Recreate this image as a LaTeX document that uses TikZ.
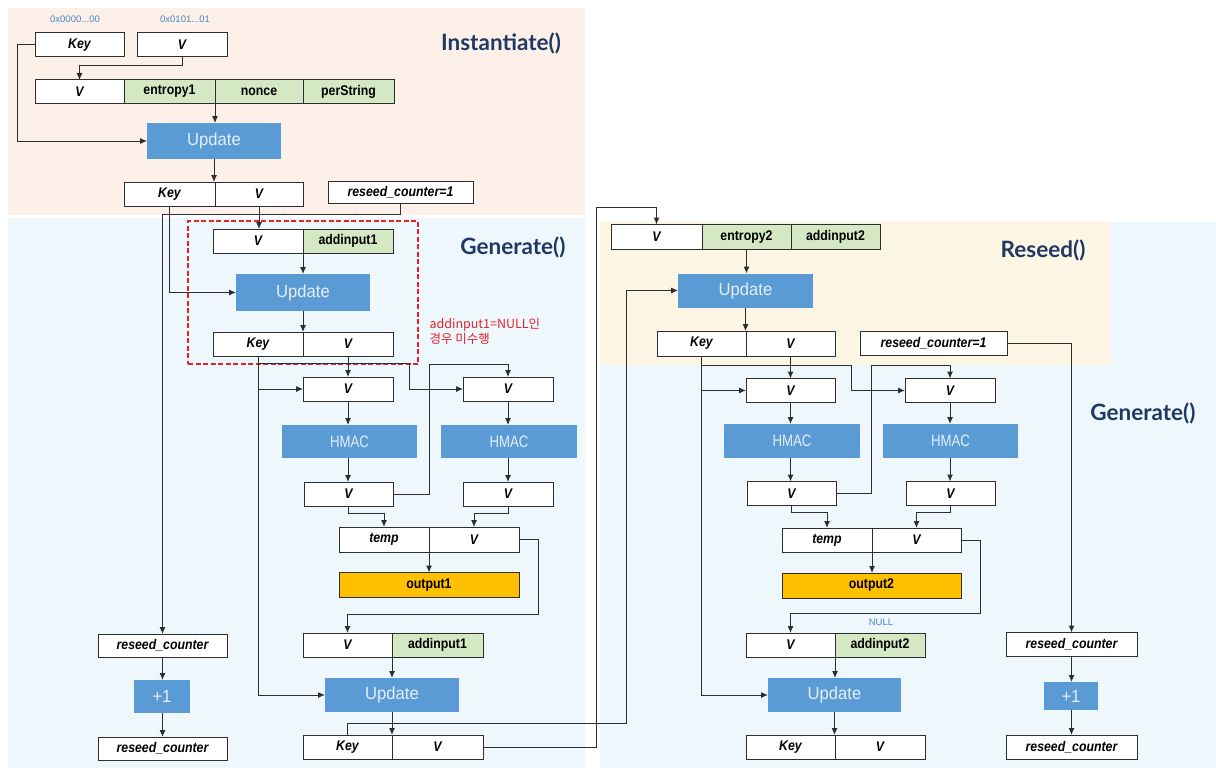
\documentclass[tikz,border=0pt]{standalone}
\usepackage{fontspec}
\setmainfont{Liberation Sans}
\newfontfamily\boxfont{Liberation Sans}[FakeStretch=0.88]
\newfontfamily\procfont{Liberation Sans}[FakeStretch=0.95]
\newfontfamily\hmacfont{Liberation Sans}[FakeStretch=0.8]
\newfontfamily\phasefont{Lato}
\newfontfamily\krfont{Noto Sans CJK KR}
\usetikzlibrary{positioning, fit, arrows.meta}

\definecolor{peachBg}{HTML}{FCF0E9}
\definecolor{blueBg}{HTML}{EEF7FC}
\definecolor{yellowBg}{HTML}{FEF6E4}
\definecolor{procBlue}{HTML}{5B9BD5}
\definecolor{procText}{HTML}{E4EEF8}
\definecolor{dataGreen}{HTML}{D5E8C4}
\definecolor{outOrange}{HTML}{FFC000}
\definecolor{lineGray}{HTML}{2E2E2E}
\definecolor{phaseNavy}{HTML}{1F3864}
\definecolor{hexBlue}{HTML}{4A86C5}
\definecolor{noteRed}{HTML}{E62129}

\begin{document}
\begin{tikzpicture}[x=1pt, y=-1pt,
  cell/.style={draw=lineGray, fill=white, line width=1pt, outer sep=0pt, inner sep=0pt, minimum height=24pt, font=\boxfont\bfseries\itshape\fontsize{14}{16}\selectfont},
  datacell/.style={cell, fill=dataGreen, font=\boxfont\bfseries\fontsize{14}{16}\selectfont},
  outbox/.style={cell, fill=outOrange, font=\boxfont\bfseries\fontsize{14}{16}\selectfont},
  proc/.style={fill=procBlue, text=procText, outer sep=0pt, inner sep=0pt, minimum height=34pt, font=\procfont\fontsize{17.5}{20}\selectfont},
  hmac/.style={proc, font=\hmacfont\fontsize{16.5}{19}\selectfont},
  phase/.style={text=phaseNavy, font=\phasefont\bfseries\fontsize{22.5}{26}\selectfont},
  hexlabel/.style={text=hexBlue, font=\fontsize{9.5}{11}\selectfont},
  notetext/.style={text=noteRed, align=left, font=\krfont\fontsize{12.5}{15}\selectfont},
  flow/.style={draw=lineGray, line width=1pt, -{Latex[length=7pt, width=6pt]}}]

        \useasboundingbox (0,0) rectangle (1216,768);
        \fill[peachBg] (8,8) rectangle (585,215);
        \fill[blueBg] (8,218) rectangle (585,768);
        \fill[blueBg] (600,222) rectangle (1216,768);
        \fill[yellowBg] (600,222) rectangle (1110,365);

        \node[hexlabel] (hexKey) at (75,19) {0x0000...00};
        \node[hexlabel] (hexV) at (185,19) {0x0101...01};
        \node[cell, minimum width=89pt] (iKey) at (79.5,45) {Key};
        \node[cell, minimum width=90pt] (iV) at (182,45) {V};
        \node[cell, minimum width=89pt, minimum height=23pt] (iRowV) at (79.5,91.5) {V};
        \node[datacell, minimum width=91pt, minimum height=23pt, right=0pt of iRowV] (iEnt) {entropy1};
        \node[datacell, minimum width=88pt, minimum height=23pt, right=0pt of iEnt] (iNonce) {nonce};
        \node[datacell, minimum width=91pt, minimum height=23pt, right=0pt of iNonce] (iPers) {perString};
        \node[proc, minimum width=134pt, minimum height=36pt] (iUpd) at (214,141) {Update};
        \node[cell, minimum width=91pt] (iOutKey) at (169.5,194) {Key};
        \node[cell, minimum width=88pt, right=0pt of iOutKey] (iOutV) {V};
        \node[cell, minimum width=145pt, minimum height=22pt] (iCnt) at (400.5,192.5) {reseed\_counter=1};
        \node[phase] (phInst) at (501,43) {Instantiate()};

        \node[cell, minimum width=90pt] (gV1) at (258,241) {V};
        \node[datacell, minimum width=90pt, right=0pt of gV1] (gAdd1) {addinput1};
        \node[proc, minimum width=134pt, minimum height=37pt] (gUpd1) at (303,292.5) {Update};
        \node[cell, minimum width=90pt] (gKey1) at (258,344) {Key};
        \node[cell, minimum width=90pt, right=0pt of gKey1] (gVo1) {V};
        \node[draw=noteRed, dash pattern=on 5pt off 2.5pt, line width=1.3pt, inner xsep=25pt, inner ysep=8pt, fit=(gV1) (gAdd1) (gKey1) (gVo1)] (skip1) {};
        \node[notetext, anchor=north west] (note1) at (426,315) {addinput1=NULL인\\경우 미수행};
        \node[phase] (phGen1) at (513,247) {Generate()};

        \node[cell, minimum width=90pt] (hV1) at (348,389) {V};
        \node[cell, minimum width=90pt] (hV2) at (508,389) {V};
        \node[hmac, minimum width=135pt, minimum height=33pt] (hmac1) at (349.5,441.5) {HMAC};
        \node[hmac, minimum width=136pt, minimum height=33pt] (hmac2) at (509,441.5) {HMAC};
        \node[cell, minimum width=89pt] (oV1) at (348.5,494) {V};
        \node[cell, minimum width=90pt] (oV2) at (508,494) {V};
        \node[cell, minimum width=90pt, minimum height=25pt] (tTemp1) at (384,539.5) {temp};
        \node[cell, minimum width=90pt, minimum height=25pt, right=0pt of tTemp1] (tV1) {V};
        \node[outbox, minimum width=180pt, minimum height=25pt] (out1) at (429,585) {output1};
        \node[cell, minimum width=89pt] (nV1) at (347.5,645) {V};
        \node[datacell, minimum width=91pt, right=0pt of nV1] (nAdd1) {addinput1};
        \node[proc, minimum width=134pt, minimum height=34pt] (gUpd2) at (392,695) {Update};
        \node[cell, minimum width=89pt] (fKey1) at (347.5,747) {Key};
        \node[cell, minimum width=91pt, right=0pt of fKey1] (fV1) {V};
        \node[cell, minimum width=129pt, minimum height=23pt] (cnt1) at (162.5,645.5) {reseed\_counter};
        \node[proc, minimum width=56pt, minimum height=33pt] (inc1) at (162,696.5) {+1};
        \node[cell, minimum width=129pt, minimum height=23pt] (cnt2) at (162.5,748.5) {reseed\_counter};

        \node[cell, minimum width=91pt, minimum height=25pt] (rV) at (656.5,237) {V};
        \node[datacell, minimum width=89pt, minimum height=25pt, right=0pt of rV] (rEnt) {entropy2};
        \node[datacell, minimum width=89pt, minimum height=25pt, right=0pt of rEnt] (rAdd) {addinput2};
        \node[proc, minimum width=135pt, minimum height=34pt] (rUpd1) at (745.5,290.5) {Update};
        \node[cell, minimum width=89pt, minimum height=25pt] (rKey) at (701.5,343.5) {Key};
        \node[cell, minimum width=89pt, minimum height=25pt, right=0pt of rKey] (rVo) {V};
        \node[cell, minimum width=147pt] (rCnt) at (933.5,343) {reseed\_counter=1};
        \node[phase] (phRes) at (1043,250) {Reseed()};
        \node[phase] (phGen2) at (1143,413) {Generate()};

        \node[cell, minimum width=89pt] (hV3) at (790.5,390.5) {V};
        \node[cell, minimum width=90pt] (hV4) at (950,390.5) {V};
        \node[hmac, minimum width=136pt, minimum height=34pt] (hmac3) at (792,441) {HMAC};
        \node[hmac, minimum width=135pt, minimum height=34pt] (hmac4) at (950.5,441) {HMAC};
        \node[cell, minimum width=89pt] (oV3) at (791.5,493.5) {V};
        \node[cell, minimum width=89pt] (oV4) at (950.5,493.5) {V};
        \node[cell, minimum width=90pt] (tTemp2) at (827,540) {temp};
        \node[cell, minimum width=89pt, right=0pt of tTemp2] (tV2) {V};
        \node[outbox, minimum width=179pt, minimum height=25pt] (out2) at (871.5,585.5) {output2};
        \node[hexlabel] (null2) at (881,622) {NULL};
        \node[cell, minimum width=89pt] (nV2) at (790.5,645) {V};
        \node[datacell, minimum width=90pt, right=0pt of nV2] (nAdd2) {addinput2};
        \node[proc, minimum width=133pt, minimum height=34pt] (rUpd2) at (834.5,695) {Update};
        \node[cell, minimum width=89pt] (fKey2) at (790.5,747) {Key};
        \node[cell, minimum width=90pt, right=0pt of fKey2] (fV2) {V};
        \node[cell, minimum width=131pt] (cnt3) at (1071.5,644.5) {reseed\_counter};
        \node[proc, minimum width=54pt, minimum height=28pt] (inc2) at (1071,696) {+1};
        \node[cell, minimum width=131pt] (cnt4) at (1071.5,747) {reseed\_counter};

        \draw[flow] (iV.south) -- ++(0,9) -| (iRowV.north);
        \draw[flow] (iKey.west) -- ++(-18,0) |- (iUpd.west);
        \draw[flow] (iEnt.south east) -- (iEnt.south east |- iUpd.north);
        \draw[flow] (iUpd.south) -- (iUpd.south |- iOutKey.north);
        \draw[flow] (iOutKey.south) |- (gUpd1.west);
        \draw[flow] (iCnt.south) -- ++(0,11) -| (cnt1.north);
        \draw[flow] (iOutV.south) -- (iOutV.south |- gV1.north);

        \draw[flow] (gV1.south east) -- (gV1.south east |- gUpd1.north);
        \draw[flow] (gUpd1.south) -- (gUpd1.south |- gKey1.north);
        \draw[flow] (gKey1.south) |- (gUpd2.west);
        \draw[flow] (gKey1.south |- hV1.west) -- (hV1.west);
        \path (gKey1.south) ++(0,7) coordinate (kSplit1);
        \draw[flow] (kSplit1) -- ++(151,0) |- (hV2.west);
        \draw[flow] (gVo1.south) -- (gVo1.south |- hV1.north);
        \draw[flow] (hV1.south) -- (hV1.south |- hmac1.north);
        \draw[flow] (hV1.south |- hmac1.south) -- (hV1.south |- oV1.north);
        \draw[flow] (oV1.east) -- ++(36,0) |- ([yshift=13pt]hV2.north) -- (hV2.north);
        \draw[flow] (hV2.south) -- (hV2.south |- hmac2.north);
        \draw[flow] (hV2.south |- hmac2.south) -- (hV2.south |- oV2.north);
        \draw[flow] (oV1.south) -- ++(0,7) -| (tTemp1.north);
        \draw[flow] (oV2.south) -- ++(0,7) -| (tV1.north);
        \draw[flow] (tTemp1.south east) -- (tTemp1.south east |- out1.north);
        \draw[flow] (tV1.east) -- ++(19,0) |- ([yshift=19pt]nV1.north) -- (nV1.north);
        \draw[flow] (nV1.south east) -- (nV1.south east |- gUpd2.north);
        \draw[flow] (gUpd2.south) -- (gUpd2.south |- fKey1.north);
        \draw[flow] (cnt1.south) -- (cnt1.south |- inc1.north);
        \draw[flow] (cnt1.south |- inc1.south) -- (cnt2.north);

        \draw[flow] (fKey1.north) -- ++(0,-12) -- ++(279,0) |- (rUpd1.west);
        \draw[flow] (fV1.east) -- ++(113,0) |- ([yshift=17pt]rV.north) -- (rV.north);

        \draw[flow] (rEnt.south) -- (rEnt.south |- rUpd1.north);
        \draw[flow] (rUpd1.south) -- (rUpd1.south |- rKey.north);
        \draw[flow] (rCnt.east) -| (cnt3.north);
        \draw[flow] (rKey.south) |- (rUpd2.west);
        \draw[flow] (rKey.south |- hV3.west) -- (hV3.west);
        \path (rKey.south) ++(0,9) coordinate (kSplit2);
        \draw[flow] (kSplit2) -- ++(150,0) |- (hV4.west);
        \draw[flow] (rVo.south) -- (rVo.south |- hV3.north);
        \draw[flow] (hV3.south) -- (hV3.south |- hmac3.north);
        \draw[flow] (hV3.south |- hmac3.south) -- (hV3.south |- oV3.north);
        \draw[flow] (oV3.east) -- ++(35,0) |- ([yshift=13pt]hV4.north) -- (hV4.north);
        \draw[flow] (hV4.south) -- (hV4.south |- hmac4.north);
        \draw[flow] (hV4.south |- hmac4.south) -- (hV4.south |- oV4.north);
        \draw[flow] (oV3.south) -- ++(0,7) -| (tTemp2.north);
        \draw[flow] (oV4.south) -- ++(0,7) -| (tV2.north);
        \draw[flow] (tTemp2.south east) -- (tTemp2.south east |- out2.north);
        \draw[flow] (tV2.east) -- ++(19,0) |- ([yshift=20pt]nV2.north) -- (nV2.north);
        \draw[flow] (nV2.south east) -- (nV2.south east |- rUpd2.north);
        \draw[flow] (rUpd2.south) -- (rUpd2.south |- fKey2.north);
        \draw[flow] (cnt3.south) -- (cnt3.south |- inc2.north);
        \draw[flow] (cnt3.south |- inc2.south) -- (cnt4.north);
\end{tikzpicture}
\end{document}
